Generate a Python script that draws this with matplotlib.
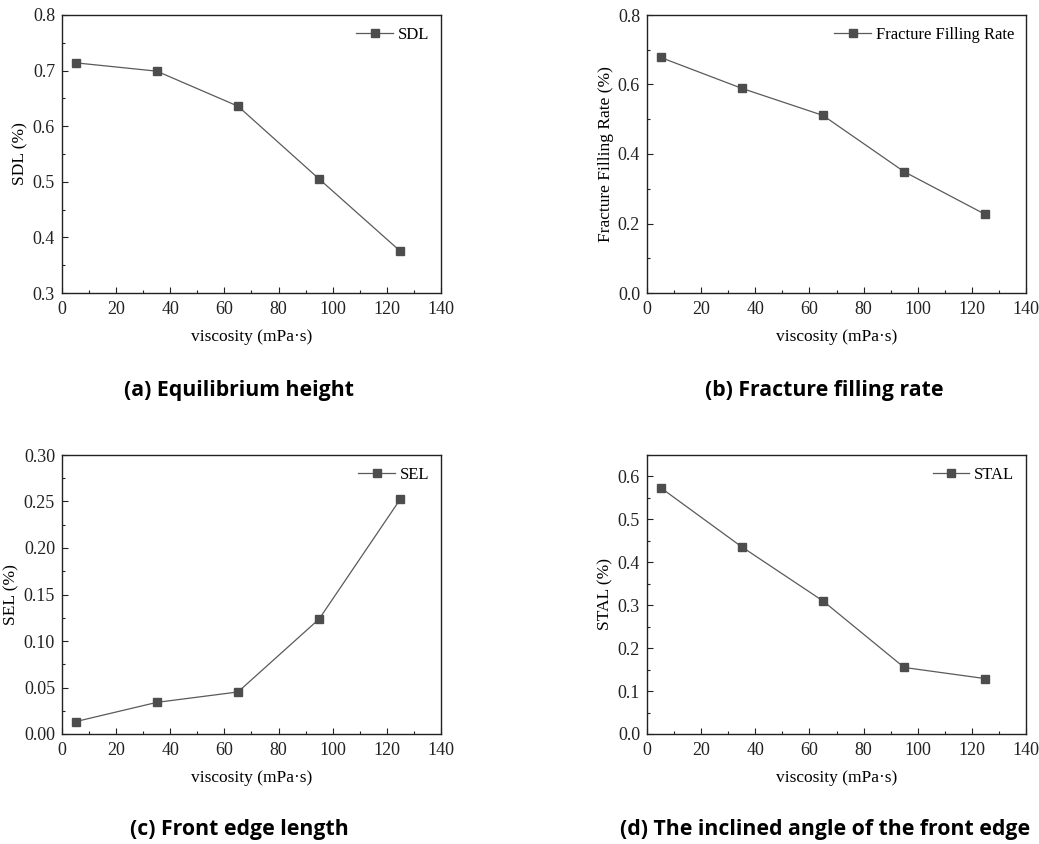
import matplotlib
matplotlib.use("Agg")
import matplotlib.pyplot as plt
from matplotlib.ticker import MultipleLocator, FormatStrFormatter

plt.rcParams['font.family'] = ['Liberation Serif', 'DejaVu Serif']

# viscosity values (mPa·s), same for every panel
viscosity = [5, 35, 65, 95, 125]

sdl = [0.714, 0.699, 0.636, 0.505, 0.375]
filling_rate = [0.678, 0.589, 0.511, 0.349, 0.226]
sel = [0.0133, 0.034, 0.0452, 0.1237, 0.2527]
stal = [0.574, 0.436, 0.310, 0.155, 0.129]

series_names = ['SDL', 'Fracture Filling Rate', 'SEL', 'STAL']
ylabels = ['SDL (%)', 'Fracture Filling Rate (%)', 'SEL (%)', 'STAL (%)']
captions = ['(a) Equilibrium height', '(b) Fracture filling rate',
            '(c) Front edge length', '(d) The inclined angle of the front edge']

fig = plt.figure(figsize=(10.39, 8.44), dpi=100)
W, H = 1039, 844

# axes boxes in pixels: left, top, right, bottom
boxes = [(62, 15, 441, 293), (647, 15, 1026, 293),
         (62, 455, 441, 734), (647, 455, 1026, 734)]
# y limits, major step, minor step, tick format
yconf = [((0.3, 0.8), 0.1, 0.05, '%.1f'),
         ((0.0, 0.8), 0.2, 0.1, '%.1f'),
         ((0.0, 0.30), 0.05, 0.025, '%.2f'),
         ((0.0, 0.65), 0.1, 0.05, '%.1f')]
caption_pos = [(239, 390), (824, 390), (239, 830), (825, 830)]

data = [sdl, filling_rate, sel, stal]

for i in range(4):
    l, t, r, b = boxes[i]
    ax = fig.add_axes([l / W, 1 - b / H, (r - l) / W, (b - t) / H])
    ax.plot(viscosity, data[i], color='#5a5a5a', linewidth=0.9,
            marker='s', markersize=5.2, markerfacecolor='#4d4d4d',
            markeredgecolor='#4d4d4d', label=series_names[i])
    ax.set_xlim(0, 140)
    ax.set_ylim(*yconf[i][0])
    ax.xaxis.set_major_locator(MultipleLocator(20))
    ax.xaxis.set_minor_locator(MultipleLocator(10))
    ax.yaxis.set_major_locator(MultipleLocator(yconf[i][1]))
    ax.yaxis.set_minor_locator(MultipleLocator(yconf[i][2]))
    ax.yaxis.set_major_formatter(FormatStrFormatter(yconf[i][3]))
    ax.tick_params(which='both', direction='in', top=False, right=False,
                   labelsize=13, colors='#222222')
    ax.tick_params(axis='x', which='major', pad=6)
    ax.tick_params(axis='y', which='major', pad=5)
    ax.tick_params(which='major', length=4, width=0.8)
    ax.tick_params(which='minor', length=2.5, width=0.8)
    for sp in ax.spines.values():
        sp.set_linewidth(1.0)
        sp.set_color('#222222')
    ax.set_xlabel('viscosity (mPa·s)', fontsize=12.5, labelpad=8)
    ax.set_ylabel(ylabels[i], fontsize=12.5, labelpad=3)
    ax.legend(loc='upper right', frameon=False, fontsize=12,
              handlelength=2.2, handletextpad=0.3, borderaxespad=0.3)
    cx, cy = caption_pos[i]
    fig.text(cx / W, 1 - cy / H, captions[i], ha='center', va='center',
             fontsize=15.3, fontweight='bold', family='Open Sans')

fig.savefig('out.png', dpi=100)
